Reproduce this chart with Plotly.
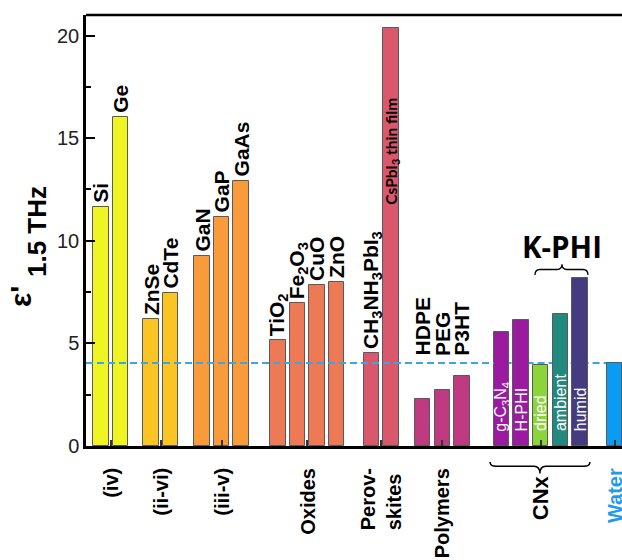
import plotly.graph_objects as go

# ---------------- data ----------------
materials = ["Si", "Ge", "ZnSe", "CdTe", "GaN", "GaP", "GaAs",
             "TiO<sub>2</sub>", "Fe<sub>2</sub>O<sub>3</sub>", "CuO", "ZnO",
             "CH<sub>3</sub>NH<sub>3</sub>PbI<sub>3</sub>", "CsPbI<sub>3</sub> thin film",
             "HDPE", "PEG", "P3HT",
             "g-C<sub>3</sub>N<sub>4</sub>", "H-PHI", "dried", "ambient", "humid",
             "Water"]
eps_15THz = [11.66, 16.02, 6.20, 7.47, 9.26, 11.17, 12.93,
             5.17, 6.95, 7.85, 7.98,
             4.55, 20.37,
             2.29, 2.73, 3.40,
             5.56, 6.12, 3.95, 6.45, 8.20,
             4.06]
group_labels = ["(iv)", "(ii-vi)", "(iii-v)", "Oxides", "Perov-<br>skites",
                "Polymers", "CNx", "Water"]
group_sizes = [2, 2, 3, 4, 2, 3, 5, 1]
water_level = 4.05
y_ticks = [0, 5, 10, 15, 20]

# ---------------- layout helpers ----------------
group_start = [0, 2.53, 5.13, 8.98, 13.73, 16.33, 20.33, 26.07]
pitch = 0.995
group_colors = ["#EEF523", "#FBC425", "#F99B3A", "#EE7A55", "#DA586C",
                "#BF3A80", None, "#0A9CF5"]
cnx_colors = ["#9A1AA0", "#9A1AA0", "#8BD43A", "#22897F", "#453B80"]

xpos, colors, group_of = [], [], []
for g, (s, n) in enumerate(zip(group_start, group_sizes)):
    for k in range(n):
        xpos.append(s + k * pitch)
        group_of.append(g)
        colors.append(group_colors[g] if group_colors[g] else cnx_colors[k])
group_centers = [s + (n - 1) * pitch / 2 for s, n in zip(group_start, group_sizes)]

FONT = "Liberation Sans, Arial, sans-serif"
X0, X1 = -0.761, 26.447

fig = go.Figure()
fig.add_trace(go.Bar(
    x=xpos, y=eps_15THz, width=0.79,
    marker=dict(color=colors, line=dict(color="#5a5a5a", width=1)),
    showlegend=False, hoverinfo="skip"))

annotations = []
# labels above / inside bars
for i, (name, v, xp) in enumerate(zip(materials, eps_15THz, xpos)):
    g = group_of[i]
    if g == 7:
        continue
    if g == 6:  # CNx: white text inside the bars
        annotations.append(dict(x=xp, y=0.62, xref="x", yref="y", text=name,
                                textangle=-90, showarrow=False, xanchor="center",
                                yanchor="bottom",
                                font=dict(family=FONT, size=16, color="white")))
    elif name.startswith("CsPbI"):
        annotations.append(dict(x=xp, y=17.05, xref="x", yref="y", text="<b>" + name + "</b>",
                                textangle=-90, showarrow=False, xanchor="center",
                                yanchor="top",
                                font=dict(family="Liberation Sans Narrow, Lato, sans-serif",
                                          size=15.5, color="black")))
    elif g == 5:  # polymers: labels floating at common baseline
        annotations.append(dict(x=xp, y=4.3, xref="x", yref="y", text="<b>" + name + "</b>",
                                textangle=-90, showarrow=False, xanchor="center",
                                yanchor="bottom",
                                font=dict(family=FONT, size=21, color="black")))
    else:
        annotations.append(dict(x=xp, y=v, xref="x", yref="y", text="<b>" + name + "</b>",
                                textangle=-90, showarrow=False, xanchor="center",
                                yanchor="bottom", yshift=2,
                                font=dict(family=FONT, size=21, color="black")))

# group labels below axis
for g, (lab, xc) in enumerate(zip(group_labels, group_centers)):
    col = "#1E9BEF" if lab == "Water" else "black"
    is_cn = lab.startswith("CN")
    annotations.append(dict(x=xc, y=0, xref="x", yref="paper", text="<b>" + lab + "</b>",
                            textangle=-90, showarrow=False, xanchor="center",
                            yanchor="top", yshift=-27 if is_cn else -20, align="left",
                            font=dict(family=FONT, size=22 if is_cn else 20, color=col)))

# K-PHI label
kphi_x = (xpos[18] + xpos[20]) / 2
annotations.append(dict(x=kphi_x + 0.1, y=9.72, xref="x", yref="y", text="<b>K-PHI</b>",
                        showarrow=False, xanchor="center", yanchor="middle",
                        font=dict(family="Open Sans, sans-serif", size=29.5, color="black")))

# y-axis title
annotations.append(dict(x=-0.121, y=0.346, xref="paper", yref="paper", text="<b>ε'</b>",
                        textangle=-90, showarrow=False, xanchor="center", yanchor="middle",
                        font=dict(family=FONT, size=30, color="black")))
annotations.append(dict(x=-0.091, y=0.497, xref="paper", yref="paper", text="<b>1.5 THz</b>",
                        textangle=-90, showarrow=False, xanchor="center", yanchor="middle",
                        font=dict(family=FONT, size=26, color="black")))

shapes = []
# water reference line (above bars until CNx, beneath CNx bars)
x_cnx = xpos[16] - 0.4
shapes.append(dict(type="line", xref="x", yref="y", x0=X0, x1=x_cnx, y0=water_level, y1=water_level,
                   line=dict(color="#3AA6E6", width=2, dash="7px,4px"), layer="above"))
shapes.append(dict(type="line", xref="x", yref="y", x0=x_cnx, x1=X1, y0=water_level, y1=water_level,
                   line=dict(color="#3AA6E6", width=2, dash="7px,4px"), layer="below"))
# top border
shapes.append(dict(type="line", xref="paper", yref="paper", x0=0, x1=1, y0=1, y1=1,
                   line=dict(color="black", width=2.5)))


def brace(x0, x1, xt, ybase, ymid, ytip, d):
    return (f"M {x0},{ybase} Q {x0},{ymid} {x0 + d},{ymid} L {xt - d},{ymid} "
            f"Q {xt},{ymid} {xt},{ytip} Q {xt},{ymid} {xt + d},{ymid} "
            f"L {x1 - d},{ymid} Q {x1},{ymid} {x1},{ybase}")


# K-PHI brace (points up)
shapes.append(dict(type="path", xref="x", yref="y",
                   path=brace(22.03, 24.72, 23.4, 8.33, 8.6, 8.85, 0.25),
                   line=dict(color="black", width=1.3)))
# CNx brace below axis (points down)
shapes.append(dict(type="path", xref="x", yref="paper",
                   path=brace(19.75, 24.82, 22.28, -0.037, -0.047, -0.064, 0.3),
                   line=dict(color="black", width=1.5)))

fig.update_layout(
    width=622, height=560,
    margin=dict(l=86, r=0, t=15, b=114, autoexpand=False),
    plot_bgcolor="white", paper_bgcolor="white",
    bargap=0,
    annotations=annotations, shapes=shapes,
    xaxis=dict(range=[X0, X1], tickvals=group_centers, ticktext=[""] * len(group_centers),
               ticks="inside", ticklen=6, tickwidth=1.5, tickcolor="#333",
               showline=True, linecolor="black", linewidth=2.5,
               showgrid=False, zeroline=False, fixedrange=True),
    yaxis=dict(range=[0, 21], tickvals=y_ticks, ticks="inside", ticklen=9, tickwidth=1.5,
               tickcolor="black",
               minor=dict(dtick=2.5, ticks="inside", ticklen=5, tickwidth=1.5, tickcolor="black"),
               tickfont=dict(family=FONT, size=20, color="#222"),
               showline=True, linecolor="black", linewidth=2.5,
               showgrid=False, zeroline=False),
)

fig.write_html("out.html", config={"displayModeBar": False},
               post_script="document.body.style.margin='0';document.body.style.overflow='hidden';")
